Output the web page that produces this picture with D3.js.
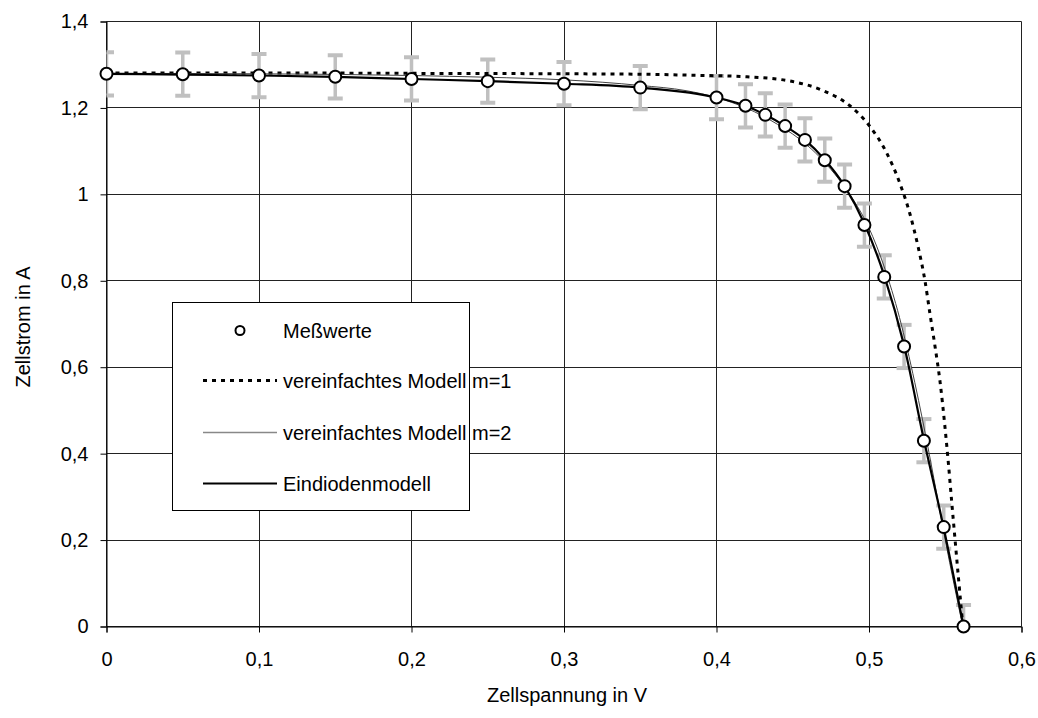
<!DOCTYPE html>
<html>
<head>
<meta charset="utf-8">
<script src="https://cdn.jsdelivr.net/npm/d3@7"></script>
<style>
  body { margin: 0; background: #fff; }
  text { font-family: "Liberation Sans", Arial, sans-serif; fill: #000; }
</style>
</head>
<body>
<div id="chart"></div>
<script>
const MARGIN = { LEFT: 106.5, RIGHT: 16.5, TOP: 21.5, BOTTOM: 91.5 }
const WIDTH = 1038 - MARGIN.LEFT - MARGIN.RIGHT
const HEIGHT = 718 - MARGIN.TOP - MARGIN.BOTTOM

// Messwerte (Spannung in V, Strom in A)
const measU = [0, 0.05, 0.1, 0.15, 0.2, 0.25, 0.3, 0.35, 0.4, 0.419, 0.432, 0.445, 0.458, 0.471, 0.484, 0.497, 0.51, 0.523, 0.536, 0.549, 0.562]
const measI = [1.279, 1.278, 1.275, 1.272, 1.267, 1.262, 1.256, 1.247, 1.224, 1.205, 1.184, 1.158, 1.126, 1.079, 1.019, 0.929, 0.809, 0.648, 0.430, 0.230, 0]
const errI = 0.05

// vereinfachtes Modell m=1
const m1U = [0, 0.1, 0.2, 0.3, 0.35, 0.38, 0.42, 0.45, 0.47, 0.4875, 0.5, 0.511, 0.5203, 0.5269, 0.5323, 0.5367, 0.54, 0.5433, 0.5466, 0.5498, 0.552, 0.5542, 0.5564, 0.5586, 0.5608, 0.5616]
const m1I = [1.281, 1.281, 1.280, 1.279, 1.278, 1.276, 1.272, 1.261, 1.240, 1.205, 1.160, 1.100, 1.025, 0.954, 0.877, 0.800, 0.723, 0.648, 0.566, 0.462, 0.380, 0.290, 0.202, 0.115, 0.030, 0]

// vereinfachtes Modell m=2
const m2U = [0, 0.1, 0.2, 0.25, 0.3, 0.35, 0.38, 0.4, 0.42, 0.44, 0.46, 0.48, 0.49, 0.5, 0.51, 0.52, 0.53, 0.54, 0.55, 0.5615]
const m2I = [1.280, 1.279, 1.275, 1.271, 1.265, 1.252, 1.240, 1.224, 1.199, 1.162, 1.112, 1.036, 0.986, 0.922, 0.832, 0.715, 0.565, 0.390, 0.200, 0]

// Eindiodenmodell
const edU = [0, 0.05, 0.1, 0.15, 0.2, 0.25, 0.3, 0.35, 0.4, 0.419, 0.432, 0.445, 0.458, 0.471, 0.484, 0.497, 0.51, 0.523, 0.536, 0.549, 0.562]
const edI = [1.279, 1.277, 1.275, 1.272, 1.267, 1.262, 1.256, 1.247, 1.224, 1.205, 1.184, 1.158, 1.126, 1.080, 1.019, 0.932, 0.812, 0.650, 0.432, 0.228, 0]

const xTicks = [0, 0.1, 0.2, 0.3, 0.4, 0.5, 0.6]
const yTicks = [0, 0.2, 0.4, 0.6, 0.8, 1.0, 1.2, 1.4]
const legendLabels = ["Meßwerte", "vereinfachtes Modell m=1", "vereinfachtes Modell m=2", "Eindiodenmodell"]

const comma = d => String(+d.toFixed(2)).replace(".", ",")

const svg = d3.select("#chart").append("svg")
  .attr("width", 1038)
  .attr("height", 718)

const g = svg.append("g")
  .attr("transform", `translate(${MARGIN.LEFT}, ${MARGIN.TOP})`)

svg.append("defs").append("clipPath").attr("id", "plot-clip")
  .append("rect").attr("x", 0).attr("y", 0).attr("width", WIDTH).attr("height", HEIGHT)

// Scales
const x = d3.scaleLinear().domain([0, 0.6]).range([0, WIDTH])
const y = d3.scaleLinear().domain([0, 1.4]).range([HEIGHT, 0])

// Grid
g.append("g").selectAll("line").data(xTicks).join("line")
  .attr("x1", d => Math.round(x(d))).attr("x2", d => Math.round(x(d)))
  .attr("y1", 0).attr("y2", HEIGHT)
  .attr("stroke", "#222").attr("stroke-width", 1)
g.append("g").selectAll("line").data(yTicks).join("line")
  .attr("y1", d => Math.round(y(d))).attr("y2", d => Math.round(y(d)))
  .attr("x1", 0).attr("x2", WIDTH)
  .attr("stroke", "#222").attr("stroke-width", 1)

// Axes
const xAxis = g.append("g")
  .attr("transform", `translate(0, ${HEIGHT})`)
  .call(d3.axisBottom(x).tickValues(xTicks).tickFormat(comma).tickSize(6).tickPadding(19))
const yAxis = g.append("g")
  .call(d3.axisLeft(y).tickValues(yTicks).tickFormat(comma).tickSize(6).tickPadding(12))
;[xAxis, yAxis].forEach(a => {
  a.select(".domain").attr("stroke", "#000")
  a.selectAll(".tick line").attr("stroke", "#000")
  a.selectAll(".tick text").attr("font-size", "20px").attr("font-family", "Liberation Sans, Arial, sans-serif")
})

// Axis titles
g.append("text")
  .attr("x", x(0.3) + 3)
  .attr("y", HEIGHT + 75)
  .attr("text-anchor", "middle")
  .attr("font-size", "20px")
  .text("Zellspannung in V")
g.append("text")
  .attr("transform", "rotate(-90)")
  .attr("x", -(y(0.7) + 3))
  .attr("y", -77)
  .attr("text-anchor", "middle")
  .attr("font-size", "20px")
  .text("Zellstrom in A")

const plot = g.append("g").attr("clip-path", "url(#plot-clip)")

// Error bars
const meas = measU.map((u, i) => ({ u: u, i: measI[i] }))
const bars = plot.append("g").selectAll("g").data(meas).join("g")
  .attr("stroke", "#c0c0c0")
bars.append("line")
  .attr("x1", d => x(d.u)).attr("x2", d => x(d.u))
  .attr("y1", d => y(d.i + errI)).attr("y2", d => y(d.i - errI))
  .attr("stroke-width", 3.5)
bars.selectAll(".cap").data(d => [[d.u, d.i + errI], [d.u, d.i - errI]]).join("line")
  .attr("class", "cap")
  .attr("x1", d => x(d[0]) - 7.5).attr("x2", d => x(d[0]) + 7.5)
  .attr("y1", d => y(d[1])).attr("y2", d => y(d[1]))
  .attr("stroke-width", 4)

// Lines
const line = d3.line().x(d => x(d[0])).y(d => y(d[1])).curve(d3.curveMonotoneX)
const zip = (a, b) => a.map((v, i) => [v, b[i]])

plot.append("path").datum(zip(m1U, m1I))
  .attr("d", line).attr("fill", "none")
  .attr("stroke", "#000").attr("stroke-width", 3).attr("stroke-dasharray", "4,5")
plot.append("path").datum(zip(m2U, m2I))
  .attr("d", line).attr("fill", "none")
  .attr("stroke", "#444").attr("stroke-width", 1)
plot.append("path").datum(zip(edU, edI))
  .attr("d", line).attr("fill", "none")
  .attr("stroke", "#000").attr("stroke-width", 2.2)

// Measured points
g.append("g").selectAll("circle").data(meas).join("circle")
  .attr("cx", d => x(d.u)).attr("cy", d => y(d.i))
  .attr("r", 6)
  .attr("fill", "#fff").attr("stroke", "#000").attr("stroke-width", 2)

// Legend
const legend = svg.append("g").attr("transform", "translate(172.5, 302.5)")
legend.append("rect")
  .attr("width", 297).attr("height", 208)
  .attr("fill", "#fff").attr("stroke", "#000").attr("stroke-width", 1)

const rowY = [28, 78, 130, 181]
legendLabels.forEach((label, i) => {
  const row = legend.append("g").attr("transform", `translate(0, ${rowY[i]})`)
  if (i === 0) {
    row.append("circle").attr("cx", 67.5).attr("cy", 0).attr("r", 4.5)
      .attr("fill", "#fff").attr("stroke", "#000").attr("stroke-width", 2)
  } else {
    const l = row.append("line").attr("x1", 30.5).attr("x2", 104.5).attr("y1", 0).attr("y2", 0)
    if (i === 1) l.attr("stroke", "#000").attr("stroke-width", 3).attr("stroke-dasharray", "4,5")
    if (i === 2) l.attr("stroke", "#888").attr("stroke-width", 1.5)
    if (i === 3) l.attr("stroke", "#000").attr("stroke-width", 2.2)
  }
  row.append("text")
    .attr("x", 110.5)
    .attr("y", 7)
    .attr("font-size", "20px")
    .text(label)
})
</script>
</body>
</html>
